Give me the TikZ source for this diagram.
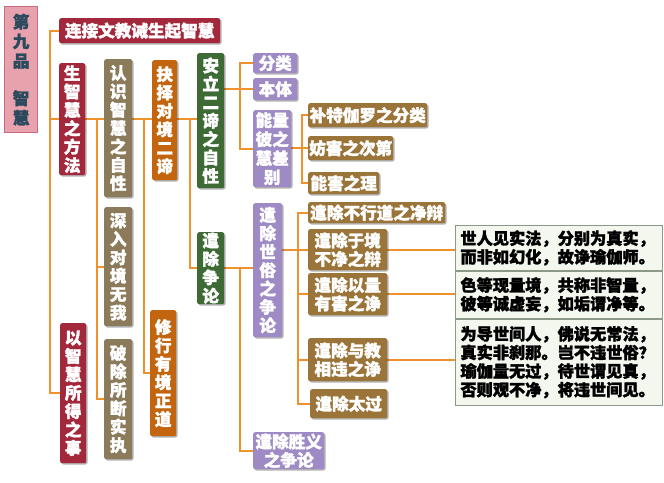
\documentclass[tikz,border=0pt]{standalone}
\usepackage{fontspec}
\setmainfont{Noto Sans CJK SC}
\newfontfamily\heavy{Noto Sans CJK SC}[FakeBold=1.8]
\usetikzlibrary{shadows,calc}
\pgfdeclarelayer{bg}
\pgfsetlayers{bg,main}
\definecolor{cDred}{HTML}{A3283B}
\definecolor{cOlive}{HTML}{8C7B5B}
\definecolor{cOrange}{HTML}{C2650E}
\definecolor{cGreen}{HTML}{3E6B35}
\definecolor{cPurple}{HTML}{9E8AC4}
\definecolor{cBrown}{HTML}{9A7438}
\definecolor{cLine}{HTML}{F0922B}
\definecolor{cPink}{HTML}{E8A2AE}
\definecolor{cPinkB}{HTML}{C86A80}
\definecolor{cTitle}{HTML}{2C4A5E}
\definecolor{cTab}{HTML}{F3F7EE}
\definecolor{cTabB}{HTML}{8A9A86}
\tikzset{
  basebox/.style={rounded corners=2pt, inner sep=0pt, align=center, text=white,
    font=\heavy\bfseries\fontsize{16.6}{18.4}\selectfont,
    drop shadow={shadow xshift=1.3pt, shadow yshift=-1.3pt, opacity=0.3, fill=black}},
  dred/.style={basebox, fill=cDred},
  olive/.style={basebox, fill=cOlive},
  orng/.style={basebox, fill=cOrange},
  green/.style={basebox, fill=cGreen},
  purp/.style={basebox, fill=cPurple},
  brwn/.style={basebox, fill=cBrown},
  titlebox/.style={inner sep=0pt, align=center, fill=cPink, draw=cPinkB, line width=1.2pt,
    text=cTitle, font=\heavy\bfseries\fontsize{16.6}{19.5}\selectfont},
  rowbox/.style={draw=cTabB, line width=0.9pt, fill=cTab, inner xsep=5pt, inner ysep=0pt,
    text width=197pt, align=left, text=black, font=\heavy\bfseries\fontsize{16.2}{18.6}\selectfont},
  conn/.style={draw=cLine, line width=2.4pt}
}
\newcommand\bx[7]{\node[#2, anchor=north west, minimum width={(#5-#3)*1pt}, minimum height={(#6-#4)*1pt}] (#1) at (#3,#4) {#7};}
\begin{document}
\begin{tikzpicture}[x=1pt,y=-1pt]
\useasboundingbox (0,0) rectangle (664,482);
% title
\bx{title}{titlebox}{4}{6}{37}{132}{第\\九\\品\\[18pt]智\\慧}
% level 1
\bx{lianjie}{dred}{59}{18}{220}{43}{连接文教诫生起智慧}
\bx{sheng}{dred}{59}{63}{85}{175}{生\\智\\慧\\之\\方\\法}
\bx{yizhi}{dred}{60}{323}{86}{463}{以\\智\\慧\\所\\得\\之\\事}
% level 2
\bx{renshi}{olive}{104}{59}{132}{197}{认\\识\\智\\慧\\之\\自\\性}
\bx{shenru}{olive}{104}{207}{132}{326}{深\\入\\对\\境\\无\\我}
\bx{pochu}{olive}{104}{339}{132}{459}{破\\除\\所\\断\\实\\执}
% level 3
\bx{jueze}{orng}{152}{60}{177}{180}{抉\\择\\对\\境\\二\\谛}
\bx{xiuxing}{orng}{150}{310}{176}{436}{修\\行\\有\\境\\正\\道}
% level 4
\bx{anli}{green}{197}{53}{224}{188}{安\\立\\二\\谛\\之\\自\\性}
\bx{zhenglun}{green}{197}{232}{224}{304}{遣\\除\\争\\论}
% anli children
\bx{fenlei}{purp}{253}{53}{297}{73}{分类}
\bx{benti}{purp}{253}{78}{297}{100}{本体}
\bx{nengliang}{purp,font=\heavy\bfseries\fontsize{16.6}{19}\selectfont}{253}{110}{291}{187}{能量\\彼之\\慧差\\别}
\bx{bute}{brwn}{308}{103}{427}{127}{补特伽罗之分类}
\bx{fanghai}{brwn}{308}{136}{393}{160}{妨害之次第}
\bx{nenghai}{brwn}{308}{172}{379}{194}{能害之理}
% zhenglun children
\bx{shisu}{purp}{253}{203}{282}{337}{遣\\除\\世\\俗\\之\\争\\论}
\bx{shengyi}{purp}{253}{432}{324}{469}{遣除胜义\\之争论}
\bx{buxing}{brwn}{308}{202}{445}{223}{遣除不行道之净辩}
\bx{yujing}{brwn}{308}{229}{387}{270}{遣除于境\\不净之辩}
\bx{yiliang}{brwn}{308}{273}{387}{315}{遣除以量\\有害之诤}
\bx{yujiao}{brwn}{308}{338}{387}{381}{遣除与教\\相违之诤}
\bx{taiguo}{brwn}{310}{389}{387}{418}{遣除太过}
% table
\node[rowbox, anchor=north west, minimum height=45pt] (r1) at (455,225) {世人见实法，分别为真实，\\而非如幻化，故诤瑜伽师。};
\node[rowbox, anchor=north west, minimum height=47pt] (r2) at (r1.south west) {色等现量境，共称非智量，\\彼等诚虚妄，如垢谓净等。};
\node[rowbox, anchor=north west, minimum height=86pt] (r3) at (r2.south west) {为导世间人，佛说无常法，\\真实非刹那。岂不违世俗？\\瑜伽量无过，待世谓见真，\\否则观不净，将违世间见。};
% junction x positions
\coordinate (jA) at (50,0);
\coordinate (jB) at (97,0);
\coordinate (jC) at (144,0);
\coordinate (jD) at (190,0);
\coordinate (jE) at (240,0);
\coordinate (jF) at (302,0);
\coordinate (jH) at (298,0);
\begin{pgfonlayer}{bg}
\fill[white] (0,0) rectangle (664,482);
\draw[conn] (lianjie.west) -| (jA |- yizhi.west) -- (yizhi.west);
\draw[conn] (jA |- sheng.west) -- (sheng.west);
\draw[conn] (sheng.east) -- (anli.west |- sheng.east);
\draw[conn] (jB |- sheng.east) |- (pochu.west);
\draw[conn] (jB |- shenru.west) -- (shenru.west);
\draw[conn] (jC |- sheng.east) |- (xiuxing.west);
\draw[conn] (jD |- sheng.east) |- (zhenglun.west);
\draw[conn] (anli.east |- benti.west) -- (benti.west);
\draw[conn] (fenlei.west) -| (jE |- nengliang.west) -- (nengliang.west);
\draw[conn] (nengliang.east |- fanghai.west) -- (fanghai.west);
\draw[conn] (bute.west) -| (jF |- nenghai.west) -- (nenghai.west);
\draw[conn] (zhenglun.east) -- (shisu.west |- zhenglun.east);
\draw[conn] (jE |- zhenglun.east) |- (shengyi.west);
\draw[conn] (shisu.east |- yujing.west) -- (yujing.west);
\draw[conn] (buxing.west) -| (jH |- taiguo.west) -- (taiguo.west);
\draw[conn] (jH |- yiliang.west) -- (yiliang.west);
\draw[conn] (jH |- yujiao.west) -- (yujiao.west);
\draw[conn] (yujing.east) -- (r1.west |- yujing.east);
\draw[conn] (yiliang.east) -- (r2.west |- yiliang.east);
\draw[conn] (yujiao.east) -- (r3.west |- yujiao.east);
\end{pgfonlayer}
\end{tikzpicture}
\end{document}
